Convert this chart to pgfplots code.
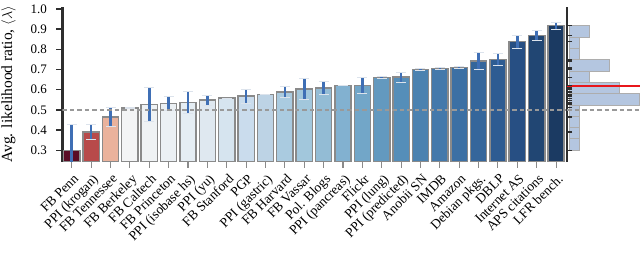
\documentclass[border=0pt]{standalone}
\usepackage{pgfplots}
\pgfplotsset{compat=1.18}
\usepackage{fontspec}
\setmainfont{Liberation Serif}
\definecolor{c1}{HTML}{5A0D25}
\definecolor{c2}{HTML}{B84A4A}
\definecolor{c3}{HTML}{EAB29C}
\definecolor{c4}{HTML}{F3F4F5}
\definecolor{c5}{HTML}{EFF2F4}
\definecolor{c6}{HTML}{EBF0F4}
\definecolor{c7}{HTML}{E5EDF3}
\definecolor{c8}{HTML}{DFE8F0}
\definecolor{c9}{HTML}{D6E4EF}
\definecolor{c10}{HTML}{CADCED}
\definecolor{c11}{HTML}{BDD3E5}
\definecolor{c12}{HTML}{AACBE0}
\definecolor{c13}{HTML}{A2C7DC}
\definecolor{c14}{HTML}{93BCD5}
\definecolor{c15}{HTML}{82B1D0}
\definecolor{c16}{HTML}{72A6C8}
\definecolor{c17}{HTML}{6399BF}
\definecolor{c18}{HTML}{558EB9}
\definecolor{c19}{HTML}{4B82B0}
\definecolor{c20}{HTML}{4479AB}
\definecolor{c21}{HTML}{3C70A4}
\definecolor{c22}{HTML}{35669B}
\definecolor{c23}{HTML}{2E5C92}
\definecolor{c24}{HTML}{274F83}
\definecolor{c25}{HTML}{214673}
\definecolor{c26}{HTML}{1B3A62}
\definecolor{edgegray}{HTML}{8A8A8A}
\definecolor{errblue}{HTML}{3F6FB5}
\definecolor{capcol}{HTML}{DCE3EC}
\definecolor{histblue}{HTML}{B4C6E0}
\definecolor{dashgray}{HTML}{999999}
\definecolor{spine}{HTML}{2E2E2E}
\definecolor{meanred}{HTML}{E8161B}
\pgfplotsset{
  mybar/.style={ybar, bar width=0.84, bar shift=0pt, draw=edgegray, line width=1.4bp, fill=#1,
    error bars/.cd, y dir=both, y explicit,
    error bar style={line width=2.6bp, color=errblue},
    error mark options={rotate=90, color=capcol, mark size=5bp, line width=0.7bp}},
}
\begin{document}
\begin{tikzpicture}
\begin{axis}[
  at={(62.3bp,-161.7bp)}, anchor=south west,
  scale only axis, width=504.4bp, height=154.7bp,
  xmin=-0.49, xmax=25.55, ymin=0.243, ymax=1.01,
  axis x line*=bottom, axis y line*=left,
  x axis line style={draw=none},
  y axis line style={line width=2.4bp, color=spine},
  tick align=outside, major tick length=6bp,
  ytick={0.3,0.4,0.5,0.6,0.7,0.8,0.9,1.0},
  yticklabel style={xshift=-6bp, font=\fontsize{13bp}{16bp}\selectfont, /pgf/number format/fixed, /pgf/number format/fixed zerofill, /pgf/number format/precision=1, /pgf/number format/assume math mode=true},
  ytick style={line width=1.4bp, color=spine},
  xtick={0,...,25},
  xtick style={line width=1.1bp, color=edgegray},
  xticklabels={FB Penn, PPI (krogan), FB Tennessee, FB Berkeley, FB Caltech, FB Princeton, PPI (isobase hs), PPI (yu), FB Stanford, PGP, PPI (gastric), FB Harvard, FB Vassar, Pol. Blogs, PPI (pancreas), Flickr, PPI (lung), PPI (predicted), Anobii SN, IMDB, Amazon, Debian pkgs., DBLP, Internet AS, APS citations, LFR bench.},
  xticklabel style={yshift=-4bp, xshift=1bp, rotate=45, anchor=north east, inner sep=1pt, font=\fontsize{13.5bp}{16bp}\selectfont},
  ylabel={Avg. likelihood ratio, $\langle\lambda\rangle$},
  every axis y label/.style={at={([xshift=-43bp]axis description cs:0,0.5)}, rotate=90, anchor=south, font=\fontsize{15.5bp}{17bp}\selectfont},
]
\addplot[mybar=c1] coordinates {(0,0.300) +- (0,0.128)};
\addplot[mybar=c2] coordinates {(1,0.391) +- (0,0.037)};
\addplot[mybar=c3] coordinates {(2,0.465) +- (0,0.046)};
\addplot[mybar=c4] coordinates {(3,0.510) +- (0,0.004)};
\addplot[mybar=c5] coordinates {(4,0.527) +- (0,0.085)};
\addplot[mybar=c6] coordinates {(5,0.533) +- (0,0.033)};
\addplot[mybar=c7] coordinates {(6,0.537) +- (0,0.053)};
\addplot[mybar=c8] coordinates {(7,0.548) +- (0,0.025)};
\addplot[mybar=c9] coordinates {(8,0.558) +- (0,0.0)};
\addplot[mybar=c10] coordinates {(9,0.568) +- (0,0.034)};
\addplot[mybar=c11] coordinates {(10,0.575) +- (0,0.0)};
\addplot[mybar=c12] coordinates {(11,0.589) +- (0,0.026)};
\addplot[mybar=c13] coordinates {(12,0.604) +- (0,0.050)};
\addplot[mybar=c14] coordinates {(13,0.608) +- (0,0.031)};
\addplot[mybar=c15] coordinates {(14,0.621) +- (0,0.0)};
\addplot[mybar=c16] coordinates {(15,0.621) +- (0,0.041)};
\addplot[mybar=c17] coordinates {(16,0.661) +- (0,0.003)};
\addplot[mybar=c18] coordinates {(17,0.662) +- (0,0.025)};
\addplot[mybar=c19] coordinates {(18,0.701) +- (0,0.005)};
\addplot[mybar=c20] coordinates {(19,0.704) +- (0,0.005)};
\addplot[mybar=c21] coordinates {(20,0.711) +- (0,0.004)};
\addplot[mybar=c22] coordinates {(21,0.742) +- (0,0.041)};
\addplot[mybar=c23] coordinates {(22,0.750) +- (0,0.030)};
\addplot[mybar=c24] coordinates {(23,0.838) +- (0,0.032)};
\addplot[mybar=c25] coordinates {(24,0.870) +- (0,0.024)};
\addplot[mybar=c26] coordinates {(25,0.917) +- (0,0.018)};
\addplot[dashgray, line width=2bp, dash pattern=on 4.5bp off 3bp] coordinates {(-0.49,0.5) (25.55,0.5)};
\end{axis}
\begin{axis}[
  at={(567bp,-161.7bp)}, anchor=south west,
  scale only axis, width=73bp, height=154.7bp,
  xmin=-0.2, xmax=7.1, ymin=0.243, ymax=1.01,
  axis x line=none, axis y line*=left,
  y axis line style={line width=2.4bp, color=spine},
  ytick=\empty,
]
\addplot[xbar interval, fill=histblue, draw=edgegray!70, line width=0.8bp] coordinates {(1,0.3000) (1,0.3561) (1,0.4122) (1,0.4683) (7,0.5244) (5,0.5805) (2,0.6365) (4,0.6926) (1,0.7487) (1,0.8048) (2,0.8609) (2,0.9170)};
\addplot[only marks, mark=-, mark size=2.5bp, mark options={line width=1.3bp, color=spine}] coordinates {(0.05,0.300) (0.05,0.391) (0.05,0.465) (0.05,0.510) (0.05,0.527) (0.05,0.533) (0.05,0.537) (0.05,0.548) (0.05,0.558) (0.05,0.568) (0.05,0.575) (0.05,0.589) (0.05,0.604) (0.05,0.608) (0.05,0.621) (0.05,0.621) (0.05,0.661) (0.05,0.662) (0.05,0.701) (0.05,0.704) (0.05,0.711) (0.05,0.742) (0.05,0.750) (0.05,0.838) (0.05,0.870) (0.05,0.917)};
\addplot[dashgray, line width=2bp, dash pattern=on 4.5bp off 3bp] coordinates {(-0.2,0.5) (7.1,0.5)};
\addplot[meanred, line width=2bp] coordinates {(-0.2,0.62) (7.1,0.62)};
\end{axis}
\pgfresetboundingbox
\path[use as bounding box] (0,0) rectangle (640bp,-253bp);
\end{tikzpicture}
\end{document}
